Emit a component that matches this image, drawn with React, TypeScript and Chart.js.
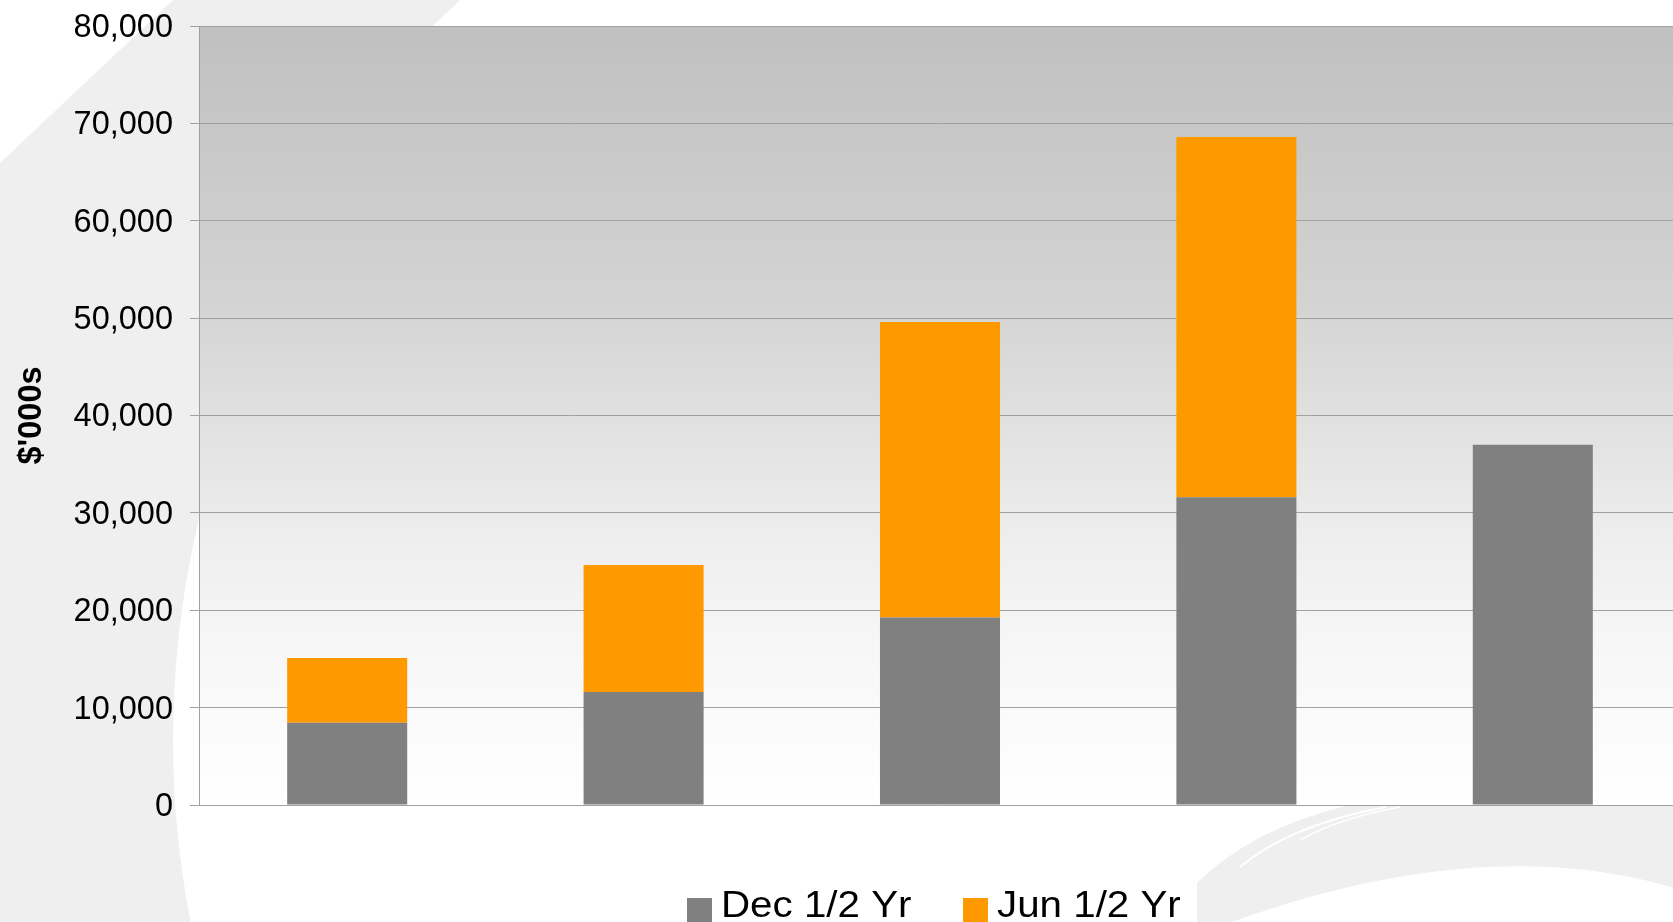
import React, { useEffect, useRef } from "react";
import { Chart, registerables } from "chart.js";

Chart.register(...registerables);

const categories = ["", "", "", "", ""];
const seriesNames = ["Dec 1/2 Yr", "Jun 1/2 Yr"];
const decValues = [8450, 11600, 19250, 31600, 37000];
const junValues = [6650, 13050, 30350, 37000, 0];
const seriesColors = ["#808080", "#ff9900"];
const yMin = 0;
const yMax = 80000;
const yStep = 10000;
const yTitle = "$'000s";

const CANVAS_W = 1681;
const CANVAS_H = 922;

const backgroundPlugin = {
  id: "pageBackground",
  beforeDraw(chart: any) {
    const ctx = chart.ctx as CanvasRenderingContext2D;
    const { width, height } = chart;
    ctx.save();
    ctx.fillStyle = "#efefef";
    ctx.fillRect(0, 0, width, height);

    ctx.fillStyle = "#ffffff";
    // top-left white triangle
    ctx.beginPath();
    ctx.moveTo(0, 0);
    ctx.lineTo(173, 0);
    ctx.lineTo(0, 163);
    ctx.closePath();
    ctx.fill();
    // top-right white region
    ctx.beginPath();
    ctx.moveTo(460, 0);
    ctx.lineTo(width, 0);
    ctx.lineTo(width, 40);
    ctx.lineTo(418, 40);
    ctx.closePath();
    ctx.fill();
    // large white arc region
    ctx.beginPath();
    ctx.arc(1123, 740, 950, 0, Math.PI * 2);
    ctx.fill();

    // grey swoosh bottom right
    ctx.fillStyle = "#efefef";
    ctx.beginPath();
    ctx.moveTo(1197, height + 10);
    ctx.lineTo(1197, 883);
    ctx.quadraticCurveTo(1250, 830, 1345, 806);
    ctx.lineTo(width, 806);
    ctx.lineTo(width, 890);
    ctx.quadraticCurveTo(1487, 830, 1232, 922);
    ctx.lineTo(1225, height + 10);
    ctx.closePath();
    ctx.fill();
    // thin white streaks
    ctx.strokeStyle = "#ffffff";
    ctx.lineWidth = 2;
    ctx.beginPath();
    ctx.moveTo(1240, 867);
    ctx.quadraticCurveTo(1290, 825, 1386, 807);
    ctx.stroke();
    ctx.lineWidth = 1.5;
    ctx.beginPath();
    ctx.moveTo(1300, 840);
    ctx.quadraticCurveTo(1340, 818, 1400, 807);
    ctx.stroke();

    // plot area gradient
    const { left, top, right, bottom } = chart.chartArea;
    const g = ctx.createLinearGradient(0, top, 0, bottom);
    g.addColorStop(0, "#c0c0c0");
    g.addColorStop(0.35, "#d3d3d3");
    g.addColorStop(0.66, "#eeeeee");
    g.addColorStop(0.8, "#f7f7f7");
    g.addColorStop(1, "#ffffff");
    ctx.fillStyle = g;
    ctx.fillRect(left, top, right - left, bottom - top);
    ctx.restore();
  },
};

const legendPlugin = {
  id: "bottomLegend",
  afterDraw(chart: any) {
    const ctx = chart.ctx as CanvasRenderingContext2D;
    const items = [
      { boxX: 687, textX: 721 },
      { boxX: 963, textX: 997 },
    ];
    ctx.save();
    chart.data.datasets.forEach((ds: any, i: number) => {
      const it = items[i];
      ctx.fillStyle = ds.backgroundColor;
      ctx.fillRect(it.boxX, 898, 25, 30);
      ctx.save();
      ctx.translate(it.textX, 917);
      ctx.scale(1.12, 1);
      ctx.font = '36px "Liberation Sans", Arial, sans-serif';
      ctx.fillStyle = "#000000";
      ctx.textBaseline = "alphabetic";
      ctx.textAlign = "left";
      ctx.fillText(ds.label, 0, 0);
      ctx.restore();
    });
    ctx.restore();
  },
};

export default function App() {
  const canvasRef = useRef<HTMLCanvasElement | null>(null);

  useEffect(() => {
    if (!canvasRef.current) return;
    const chart = new Chart(canvasRef.current, {
      type: "bar",
      data: {
        labels: categories,
        datasets: [
          {
            label: seriesNames[0],
            data: decValues,
            backgroundColor: seriesColors[0],
            borderWidth: 0,
            categoryPercentage: 1,
            barPercentage: 0.405,
          },
          {
            label: seriesNames[1],
            data: junValues,
            backgroundColor: seriesColors[1],
            borderWidth: 0,
            categoryPercentage: 1,
            barPercentage: 0.405,
          },
        ],
      },
      options: {
        responsive: false,
        maintainAspectRatio: false,
        animation: false,
        devicePixelRatio: 1,
        layout: { padding: { top: 26, left: 0, right: 0, bottom: 117 } },
        plugins: {
          legend: { display: false },
          tooltip: { enabled: false },
        },
        scales: {
          x: {
            display: false,
            stacked: true,
            grid: { display: false },
          },
          y: {
            stacked: true,
            min: yMin,
            max: yMax,
            afterFit: (s: any) => {
              s.width = 199;
              s.paddingTop = 0;
              s.paddingBottom = 0;
            },
            ticks: {
              stepSize: yStep,
              padding: 17,
              labelOffset: 2,
              color: "#000000",
              font: { family: '"Liberation Sans", Arial, sans-serif', size: 32.5 },
              callback: (v: any) => Number(v).toLocaleString("en-US"),
            },
            grid: {
              color: "#a0a0a0",
              lineWidth: 1,
              tickLength: 9,
              drawTicks: true,
            },
            border: { color: "#a0a0a0", width: 1 },
            title: {
              display: true,
              text: yTitle,
              color: "#000000",
              padding: { top: 13, bottom: 0 },
              font: {
                family: '"Liberation Sans", Arial, sans-serif',
                size: 32.5,
                weight: "bold",
                lineHeight: 1.2,
              },
            },
          },
        },
      },
      plugins: [backgroundPlugin, legendPlugin],
    } as any);
    return () => chart.destroy();
  }, []);

  return (
    <div
      style={{
        position: "fixed",
        left: 0,
        top: 0,
        width: 1673,
        height: 922,
        overflow: "hidden",
        background: "#ffffff",
      }}
    >
      <canvas
        ref={canvasRef}
        width={CANVAS_W}
        height={CANVAS_H}
        style={{ display: "block", width: CANVAS_W, height: CANVAS_H }}
      />
    </div>
  );
}
